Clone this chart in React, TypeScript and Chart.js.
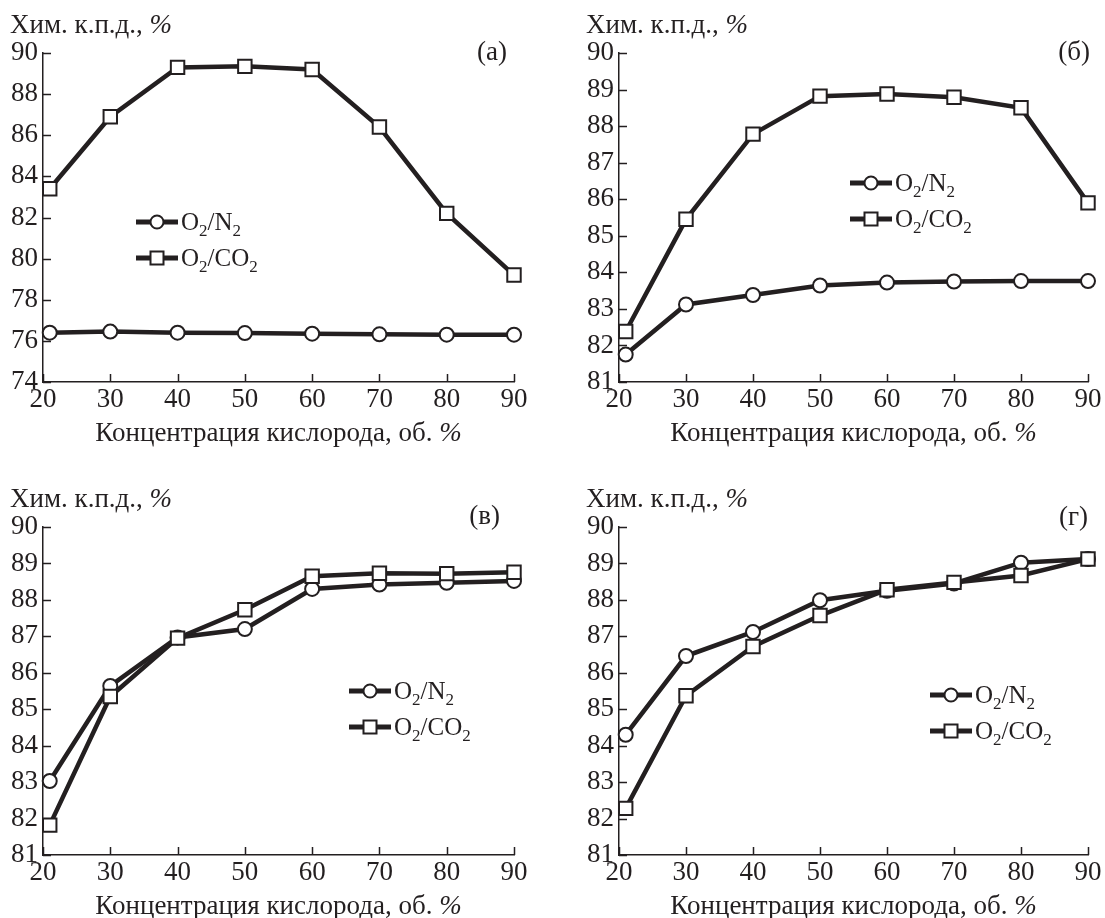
import React, { useEffect, useRef } from "react";
import { Chart, registerables } from "chart.js";

Chart.register(...registerables);

// ---------- data ----------
const oxygenConc = [21, 30, 40, 50, 60, 70, 80, 90];
const xTickValues = [20, 30, 40, 50, 60, 70, 80, 90];
const yTicksA = [74, 76, 78, 80, 82, 84, 86, 88, 90];
const yTicksOther = [81, 82, 83, 84, 85, 86, 87, 88, 89, 90];

const aN2 = [76.4, 76.45, 76.4, 76.38, 76.35, 76.32, 76.3, 76.3];
const aCO2 = [83.4, 86.9, 89.3, 89.35, 89.2, 86.4, 82.2, 79.2];
const bN2 = [81.75, 83.12, 83.38, 83.64, 83.72, 83.75, 83.76, 83.76];
const bCO2 = [82.38, 85.45, 87.78, 88.82, 88.88, 88.79, 88.5, 85.9];
const cN2 = [83.03, 85.64, 86.97, 87.2, 88.3, 88.42, 88.47, 88.52];
const cCO2 = [81.82, 85.35, 86.95, 87.73, 88.65, 88.73, 88.72, 88.76];
const dN2 = [84.3, 86.46, 87.12, 87.99, 88.25, 88.45, 89.02, 89.12];
const dCO2 = [82.28, 85.37, 86.72, 87.57, 88.28, 88.48, 88.67, 89.12];

const panelLabels = ["(а)", "(б)", "(в)", "(г)"];
const yTitle = "Хим. к.п.д., ";
const xTitle = "Концентрация кислорода, об. ";
const seriesN2 = [{ t: "O" }, { t: "2", sub: true }, { t: "/N" }, { t: "2", sub: true }];
const seriesCO2 = [{ t: "O" }, { t: "2", sub: true }, { t: "/CO" }, { t: "2", sub: true }];

// ---------- style ----------
const FONT = '"Liberation Serif", "Times New Roman", serif';
const INK = "#231f20";
const TICK_SIZE = 27;
const TITLE_SIZE = 27;
const LEGEND_SIZE = 25;

type Part = { t: string; italic?: boolean; sub?: boolean };

function drawRich(
  ctx: CanvasRenderingContext2D,
  parts: Part[],
  x: number,
  baseline: number,
  size: number,
  align: "left" | "center" | "right"
) {
  const subSize = Math.round(size * 0.66);
  const fontFor = (p: Part) =>
    `${p.italic ? "italic " : ""}${p.sub ? subSize : size}px ${FONT}`;
  let total = 0;
  parts.forEach((p) => {
    ctx.font = fontFor(p);
    total += ctx.measureText(p.t).width;
  });
  let cx = align === "left" ? x : align === "center" ? x - total / 2 : x - total;
  ctx.textAlign = "left";
  ctx.textBaseline = "alphabetic";
  ctx.fillStyle = INK;
  parts.forEach((p) => {
    ctx.font = fontFor(p);
    ctx.fillText(p.t, cx, baseline + (p.sub ? size * 0.24 : 0));
    cx += ctx.measureText(p.t).width;
  });
}

type PanelDef = {
  left: number;
  top: number;
  w: number;
  h: number;
  area: { l: number; r: number; t: number; b: number };
  yMin: number;
  yMax: number;
  yTicks: number[];
  n2: number[];
  co2: number[];
  label: string;
  labelRight: number;
  labelBaseline: number;
  legendX: number;
  legendY: number;
};

const panels: PanelDef[] = [
  {
    left: 0, top: 0, w: 552, h: 459,
    area: { l: 43, r: 514, t: 53, b: 382 },
    yMin: 74, yMax: 90, yTicks: yTicksA, n2: aN2, co2: aCO2,
    label: panelLabels[0], labelRight: 507, labelBaseline: 60,
    legendX: 136, legendY: 222,
  },
  {
    left: 552, top: 0, w: 553, h: 459,
    area: { l: 619, r: 1088, t: 53, b: 382 },
    yMin: 81, yMax: 90, yTicks: yTicksOther, n2: bN2, co2: bCO2,
    label: panelLabels[1], labelRight: 1090, labelBaseline: 60,
    legendX: 850, legendY: 183,
  },
  {
    left: 0, top: 459, w: 552, h: 459,
    area: { l: 43, r: 514, t: 527, b: 855 },
    yMin: 81, yMax: 90, yTicks: yTicksOther, n2: cN2, co2: cCO2,
    label: panelLabels[2], labelRight: 500, labelBaseline: 524,
    legendX: 349, legendY: 691,
  },
  {
    left: 552, top: 459, w: 553, h: 459,
    area: { l: 619, r: 1088, t: 527, b: 855 },
    yMin: 81, yMax: 90, yTicks: yTicksOther, n2: dN2, co2: dCO2,
    label: panelLabels[3], labelRight: 1088, labelBaseline: 525,
    legendX: 930, legendY: 695,
  },
];

const decorPlugin = {
  id: "panelDecor",
  beforeDatasetsDraw(chart: any) {
    const { ctx, chartArea, scales } = chart;
    ctx.save();
    ctx.strokeStyle = INK;
    ctx.lineWidth = 1.5;
    ctx.beginPath();
    scales.x.ticks.forEach((t: any) => {
      const x = Math.round(scales.x.getPixelForValue(t.value)) + 0.5;
      ctx.moveTo(x, chartArea.bottom);
      ctx.lineTo(x, chartArea.bottom - 8);
    });
    scales.y.ticks.forEach((t: any) => {
      const y = Math.round(scales.y.getPixelForValue(t.value)) + 0.5;
      ctx.moveTo(chartArea.left, y);
      ctx.lineTo(chartArea.left + 8, y);
    });
    ctx.stroke();
    ctx.restore();
  },
  afterDraw(chart: any, _args: any, opts: any) {
    const p: PanelDef = opts.panel;
    const { ctx, chartArea } = chart;
    ctx.save();
    // y title
    drawRich(ctx, [{ t: yTitle }, { t: "%", italic: true }], chartArea.left - 33, chartArea.top - 20, TITLE_SIZE, "left");
    // x title
    drawRich(ctx, [{ t: xTitle }, { t: "%", italic: true }], (chartArea.left + chartArea.right) / 2, chartArea.bottom + 59, TITLE_SIZE, "center");
    // panel label
    drawRich(ctx, [{ t: p.label }], p.labelRight - p.left, p.labelBaseline - p.top, TITLE_SIZE, "right");
    // legend
    const lx = p.legendX - p.left;
    const rows = [
      { y: p.legendY - p.top, parts: seriesN2, shape: "circle" },
      { y: p.legendY - p.top + 36, parts: seriesCO2, shape: "rect" },
    ];
    rows.forEach((r) => {
      ctx.strokeStyle = INK;
      ctx.lineWidth = 5;
      ctx.beginPath();
      ctx.moveTo(lx, r.y);
      ctx.lineTo(lx + 42, r.y);
      ctx.stroke();
      ctx.lineWidth = 2;
      ctx.fillStyle = "#fff";
      ctx.beginPath();
      if (r.shape === "circle") {
        ctx.arc(lx + 21, r.y, 6.5, 0, Math.PI * 2);
      } else {
        ctx.rect(lx + 21 - 6.5, r.y - 6.5, 13, 13);
      }
      ctx.fill();
      ctx.stroke();
      drawRich(ctx, r.parts, lx + 45, r.y + LEGEND_SIZE * 0.33, LEGEND_SIZE, "left");
    });
    ctx.restore();
  },
};

function Panel({ p }: { p: PanelDef }) {
  const ref = useRef<HTMLCanvasElement | null>(null);
  useEffect(() => {
    if (!ref.current) return;
    const yAxisW = p.area.l - p.left;
    const xAxisH = p.top + p.h - p.area.b;
    const chart = new Chart(ref.current, {
      type: "line",
      data: {
        datasets: [
          {
            label: "O2/N2",
            data: oxygenConc.map((x, i) => ({ x, y: p.n2[i] })),
            borderColor: INK,
            borderWidth: 4.5,
            pointStyle: "circle",
            pointRadius: 7,
            pointBorderWidth: 2,
            pointBorderColor: INK,
            pointBackgroundColor: "#fff",
            tension: 0,
            clip: false,
            order: 1,
          },
          {
            label: "O2/CO2",
            data: oxygenConc.map((x, i) => ({ x, y: p.co2[i] })),
            borderColor: INK,
            borderWidth: 4.5,
            pointStyle: "rect",
            pointRadius: 9.5,
            pointBorderWidth: 2,
            pointBorderColor: INK,
            pointBackgroundColor: "#fff",
            tension: 0,
            clip: false,
            order: 0,
          },
        ],
      },
      options: {
        animation: false,
        responsive: false,
        devicePixelRatio: 1,
        events: [],
        layout: {
          padding: {
            top: p.area.t - p.top,
            right: p.left + p.w - p.area.r,
            left: 0,
            bottom: 0,
          },
        },
        plugins: {
          legend: { display: false },
          tooltip: { enabled: false },
          title: { display: false },
          panelDecor: { panel: p },
        } as any,
        scales: {
          x: {
            type: "linear",
            min: 20,
            max: 90,
            afterBuildTicks: (s: any) => {
              s.ticks = xTickValues.map((v) => ({ value: v }));
            },
            afterFit: (s: any) => {
              s.height = xAxisH;
            },
            grid: { display: false, drawTicks: false },
            border: { display: true, color: INK, width: 1.5 },
            ticks: {
              color: INK,
              font: { family: FONT, size: TICK_SIZE },
              padding: 2,
              maxRotation: 0,
              autoSkip: false,
            },
          },
          y: {
            type: "linear",
            min: p.yMin,
            max: p.yMax,
            afterBuildTicks: (s: any) => {
              s.ticks = p.yTicks.map((v) => ({ value: v }));
            },
            afterFit: (s: any) => {
              s.width = yAxisW;
            },
            grid: { display: false, drawTicks: false },
            border: { display: true, color: INK, width: 1.5 },
            ticks: {
              color: INK,
              font: { family: FONT, size: TICK_SIZE },
              padding: 5,
              autoSkip: false,
            },
          },
        },
      },
      plugins: [decorPlugin],
    });
    return () => chart.destroy();
  }, [p]);
  return (
    <canvas
      ref={ref}
      width={p.w}
      height={p.h}
      style={{ position: "absolute", left: p.left, top: p.top, width: p.w, height: p.h }}
    />
  );
}

export default function App() {
  return (
    <div style={{ position: "absolute", left: 0, top: 0, width: 1105, height: 918, background: "#fff" }}>
      {panels.map((p, i) => (
        <Panel key={i} p={p} />
      ))}
    </div>
  );
}
